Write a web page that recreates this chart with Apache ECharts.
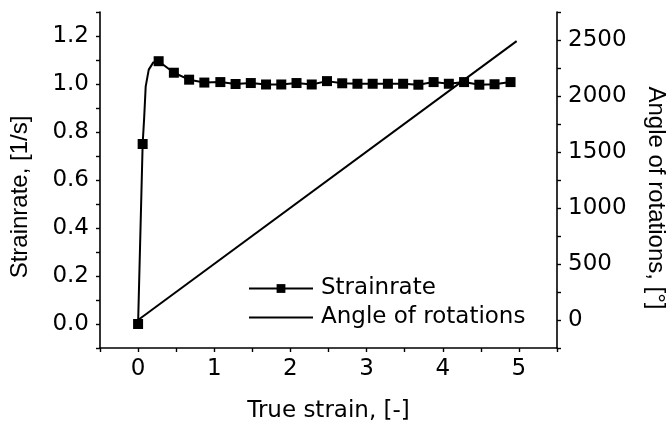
<!DOCTYPE html>
<html lang="en">
	<head>
		<meta charset="UTF-8" />
		<title>Strainrate and angle of rotations</title>
		<script src="https://cdn.jsdelivr.net/npm/echarts@6/dist/echarts.min.js"></script>
		<style>
			html, body { margin: 0; padding: 0; background: #fff; }
		</style>
	</head>
	<body>
		<div id="myChart" style="width: 672px; height: 426px"></div>

		<script>
			// strainrate points drawn with square markers
			const markStrain = [0, 0.06, 0.27, 0.47, 0.67, 0.87, 1.08, 1.28, 1.48, 1.68, 1.88, 2.08, 2.28, 2.48, 2.68,
				2.88, 3.08, 3.28, 3.48, 3.68, 3.88, 4.08, 4.28, 4.48, 4.68, 4.89];
			const markRate = [0, 0.75, 1.095, 1.047, 1.018, 1.006, 1.008, 1.0, 1.004, 0.998, 0.998, 1.004, 0.998, 1.012, 1.003,
				1.001, 1.001, 1.001, 1.001, 0.997, 1.008, 1.001, 1.008, 0.997, 0.999, 1.008];
			// extra strainrate points on the steep rise (line only)
			const riseStrain = [0.08, 0.1, 0.14, 0.2];
			const riseRate = [0.86, 0.99, 1.06, 1.09];
			// angle of rotations, degrees
			const angleStrain = [0, 4.97];
			const angleValues = [0, 2490];

			const xTicks = [-0.5, 5.5, 0.5];
			const leftTicks = [-0.1, 1.3, 0.1];
			const rightTicks = [-250, 2750, 250];

			const rateData = markStrain.map((x, i) => ({ value: [x, markRate[i]] }))
				.concat(riseStrain.map((x, i) => ({ value: [x, riseRate[i]], symbol: "none" })))
				.sort((a, b) => a.value[0] - b.value[0]);
			const angleData = angleStrain.map((x, i) => [x, angleValues[i]]);

			const hFont = "DejaVu Sans";
			const vFont = "Liberation Sans";
			const axisLine = { show: true, onZero: false, lineStyle: { color: "#000", width: 1.6 } };
			const axisTick = { show: true, length: 4, lineStyle: { color: "#000", width: 1.4 } };

			const myChart = echarts.init(document.getElementById("myChart"));

			const option = {
				animation: false,
				backgroundColor: "#fff",
				grid: { left: 100, right: 115, top: 12, bottom: 78, outerBoundsMode: "none", containLabel: false },
				xAxis: {
					type: "value",
					min: xTicks[0],
					max: xTicks[1],
					interval: xTicks[2],
					name: "True strain, [-]",
					nameLocation: "middle",
					nameGap: 52,
					nameTextStyle: { fontFamily: hFont, fontSize: 23, color: "#000" },
					axisLine: axisLine,
					axisTick: axisTick,
					splitLine: { show: false },
					axisLabel: {
						margin: 10,
						fontFamily: hFont,
						fontSize: 23,
						color: "#000",
						formatter: (v) => (Math.abs(v - Math.round(v)) < 1e-6 ? String(Math.round(v)) : ""),
					},
				},
				yAxis: [
					{
						type: "value",
						position: "left",
						min: leftTicks[0],
						max: leftTicks[1],
						interval: leftTicks[2],
						name: "Strainrate, [1/s]",
						nameLocation: "middle",
						nameGap: 68,
						nameRotate: 90,
						nameTextStyle: { fontFamily: vFont, fontSize: 24, color: "#000", padding: [0, 34, 0, 0] },
						axisLine: axisLine,
						axisTick: axisTick,
						splitLine: { show: false },
						axisLabel: {
							margin: 11,
							fontFamily: hFont,
							fontSize: 23,
							color: "#000",
							formatter: (v) => (Math.round(v * 10) % 2 === 0 ? v.toFixed(1) : ""),
						},
					},
					{
						type: "value",
						position: "right",
						min: rightTicks[0],
						max: rightTicks[1],
						interval: rightTicks[2],
						name: "Angle of rotations, [°]",
						nameLocation: "middle",
						nameGap: 87,
						nameRotate: -90,
						nameTextStyle: { fontFamily: vFont, fontSize: 24, color: "#000", padding: [0, 0, 0, 36] },
						axisLine: axisLine,
						axisTick: axisTick,
						splitLine: { show: false },
						axisLabel: {
							margin: 11,
							fontFamily: hFont,
							fontSize: 23,
							color: "#000",
							formatter: (v) => (Math.round(v) % 500 === 0 ? String(Math.round(v)) : ""),
						},
					},
				],
				legend: {
					orient: "vertical",
					left: 248,
					top: 277,
					padding: 0,
					itemWidth: 64,
					itemHeight: 11,
					itemGap: 6,
					textStyle: { fontFamily: hFont, fontSize: 23, color: "#000", padding: [0, 0, 0, 3] },
					data: ["Strainrate", { name: "Angle of rotations", itemStyle: { opacity: 0 } }],
				},
				series: [
					{
						name: "Strainrate",
						type: "line",
						yAxisIndex: 0,
						data: rateData,
						symbol: "rect",
						symbolSize: 10,
						showAllSymbol: true,
						itemStyle: { color: "#000" },
						lineStyle: { color: "#000", width: 2 },
						z: 3,
					},
					{
						name: "Angle of rotations",
						type: "line",
						yAxisIndex: 1,
						data: angleData,
						symbol: "none",
						itemStyle: { color: "#000" },
						lineStyle: { color: "#000", width: 2 },
						z: 2,
					},
				],
			};

			myChart.setOption(option);
		</script>
	</body>
</html>
